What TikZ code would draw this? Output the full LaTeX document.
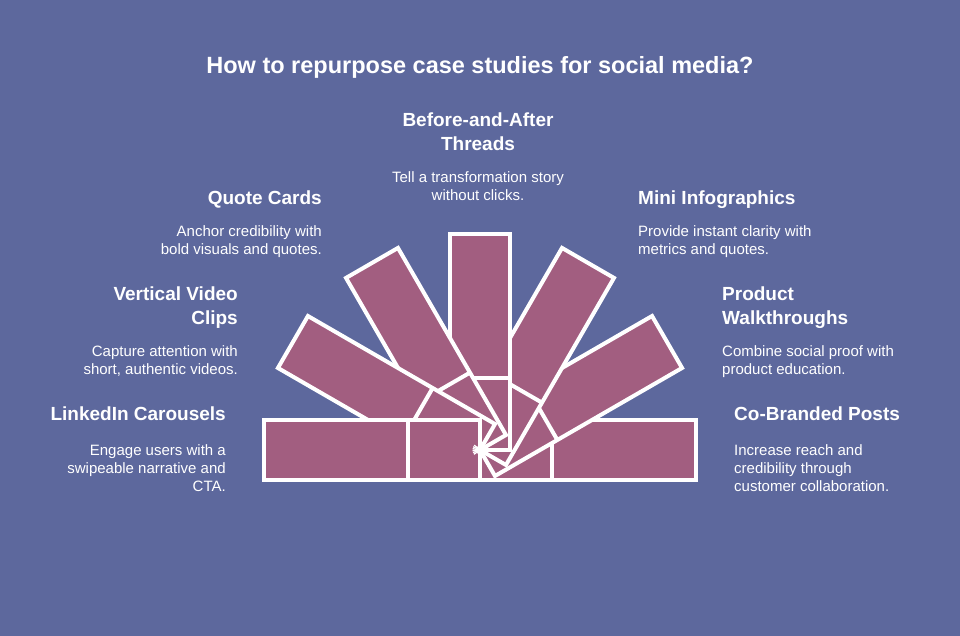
\documentclass[tikz,border=0pt]{standalone}
\usepackage{fontspec}
\setmainfont{Liberation Sans}
\definecolor{bgblue}{HTML}{5D689D}
\definecolor{stripfill}{HTML}{A25E80}
\tikzset{
  x=1bp,y=1bp,
  strip/.style={draw=white,fill=stripfill,line width=4bp,line join=miter},
  divider/.style={draw=white,line width=4bp},
  title/.style={text=white,inner sep=0pt,font=\bfseries\fontsize{23.5bp}{28bp}\selectfont},
  headr/.style={text=white,inner sep=0pt,anchor=north east,align=right,font=\bfseries\fontsize{19bp}{24bp}\selectfont},
  headl/.style={text=white,inner sep=0pt,anchor=north west,align=left,font=\bfseries\fontsize{19bp}{24bp}\selectfont},
  headc/.style={text=white,inner sep=0pt,anchor=north,align=center,font=\bfseries\fontsize{19bp}{24bp}\selectfont},
  bodyr/.style={text=white,inner sep=0pt,anchor=north east,align=right,font=\fontsize{15bp}{18bp}\selectfont},
  bodyl/.style={text=white,inner sep=0pt,anchor=north west,align=left,font=\fontsize{15bp}{18bp}\selectfont},
  bodyc/.style={text=white,inner sep=0pt,anchor=north,align=center,font=\fontsize{15bp}{18bp}\selectfont},
}
\begin{document}
\begin{tikzpicture}
\useasboundingbox (0,0) rectangle (960,636);
\fill[bgblue] (0,0) rectangle (960,636);
\coordinate (hub) at (480,186);
\foreach \ang in {0,30,60,90,120,150,180}{
  \begin{scope}[shift={(hub)},rotate=\ang]
    \draw[strip] (0,-30) rectangle (216,30);
    \draw[divider] (72,-30) -- (72,30);
  \end{scope}
}
\fill[white] (hub) circle (4.5);
\foreach \ang in {140,155,170,185,200,215}{
  \draw[white,line width=1.3bp] (hub) -- ++(\ang:7.5);
}
\node[title] (ttl) at (480,569) {How to repurpose case studies for social media?};
\node[headc] (h1) at (478,523) {Before-and-After\\Threads};
\node[bodyc] (b1) at (478,465) {Tell a transformation story\\without clicks.};
\node[headr] (h2) at (322,445) {Quote Cards};
\node[bodyr] (b2) at (322,411) {Anchor credibility with\\bold visuals and quotes.};
\node[headr] (h3) at (238,349) {Vertical Video\\Clips};
\node[bodyr] (b3) at (238,291) {Capture attention with\\short, authentic videos.};
\node[headr] (h4) at (226,229) {LinkedIn Carousels};
\node[bodyr] (b4) at (226,192) {Engage users with a\\swipeable narrative and\\CTA.};
\node[headl] (h5) at (638,445) {Mini Infographics};
\node[bodyl] (b5) at (638,411) {Provide instant clarity with\\metrics and quotes.};
\node[headl] (h6) at (722,349) {Product\\Walkthroughs};
\node[bodyl] (b6) at (722,291) {Combine social proof with\\product education.};
\node[headl] (h7) at (734,229) {Co-Branded Posts};
\node[bodyl] (b7) at (734,192) {Increase reach and\\credibility through\\customer collaboration.};
\end{tikzpicture}
\end{document}
